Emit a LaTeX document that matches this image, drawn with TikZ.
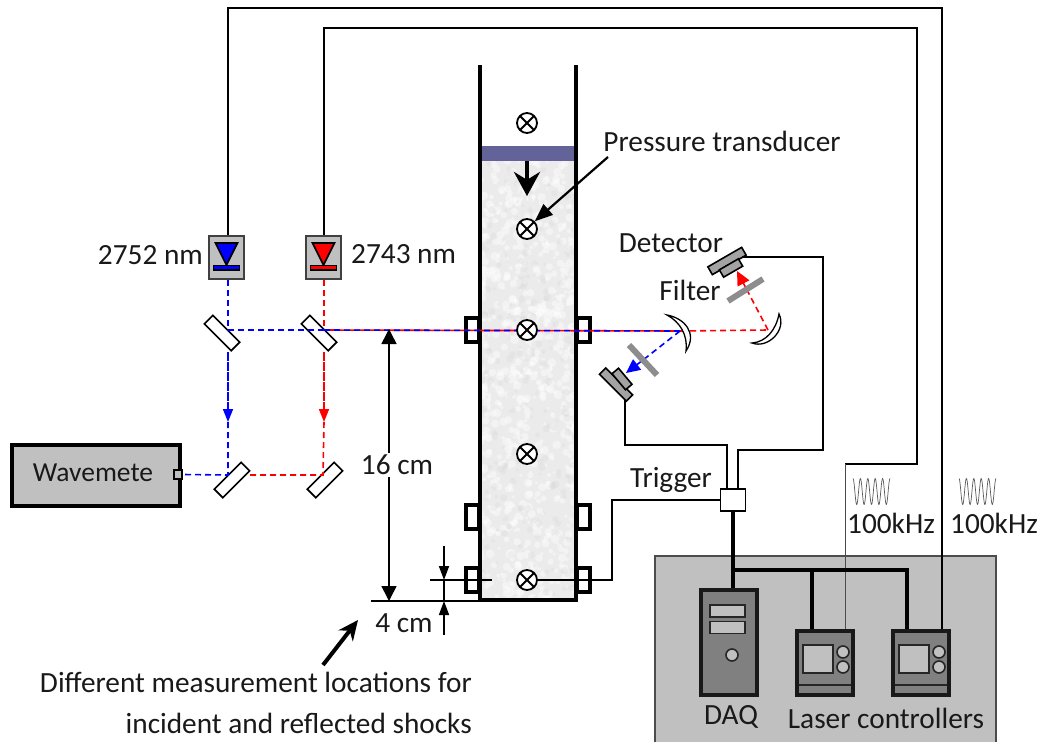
\documentclass[tikz,border=0pt]{standalone}
\usepackage{fontspec}
\setmainfont{Carlito}
\usetikzlibrary{arrows.meta,calc}
\definecolor{panelgray}{HTML}{C0C0C0}
\definecolor{darkgray}{HTML}{808080}
\definecolor{driver}{HTML}{63639A}
\tikzset{
  every node/.style={font=\fontsize{29.3}{33}\selectfont, inner sep=0pt, text=black!90},
  wire/.style={draw=black, line width=1.6pt},
  thinwire/.style={draw=black!70, line width=1pt},
  thickwire/.style={draw=black, line width=4.5pt},
  bluebeam/.style={draw=blue, line width=1.6pt, dash pattern=on 6pt off 4pt},
  redbeam/.style={draw=red, line width=1.6pt, dash pattern=on 6pt off 4pt},
  gauge/.style={circle, draw=black, fill=white, line width=1.8pt, minimum size=20pt,
    path picture={\draw[line width=1.8pt] (path picture bounding box.north west) -- (path picture bounding box.south east)
      (path picture bounding box.north east) -- (path picture bounding box.south west);}},
  port/.style={rectangle, draw=black, fill=white, line width=3.5pt, minimum width=13pt, minimum height=24pt},
  mirror/.style={rectangle, draw=black, fill=white, line width=1.6pt, minimum width=38pt, minimum height=12pt},
  laserbox/.style={rectangle, draw=black!75, fill=panelgray, line width=2pt, minimum width=35pt, minimum height=43pt},
  detplate/.style={rectangle, draw=black, fill=panelgray!85!black, line width=1.6pt},
  cabinet/.style={rectangle, draw=black!90, fill=darkgray, line width=4pt},
  bay/.style={rectangle, draw=black!85, fill=panelgray, line width=1.6pt},
  knob/.style={circle, draw=black!85, fill=panelgray, line width=1.6pt, minimum size=12pt},
  filterbar/.style={draw=darkgray!90, line width=6pt},
  dimarrow/.style={draw=black, line width=1.6pt, -{Triangle[length=15pt,width=15pt]}},
  smallarrow/.style={draw=black, line width=1.6pt, -{Triangle[length=14pt,width=10pt]}},
  wave/.style={draw=black!65, line width=0.7pt},
}
\begin{document}
\begin{tikzpicture}[x=1pt,y=-1pt]
  \useasboundingbox (0,0) rectangle (1044,742);

  % junctions of the optics and the wires
  \coordinate (bsblue) at (228,330);
  \coordinate (bsred) at (324,330);
  \coordinate (foldblue) at (228,475);
  \coordinate (foldred) at (323,475);
  \coordinate (lensa) at (680,331);
  \coordinate (lensb) at (768,330);
  \coordinate (topouter) at (942,8);
  \coordinate (topinner) at (917,28);
  \coordinate (innerturn) at (845,464);
  \coordinate (ctrlainput) at (845,631);
  \coordinate (ctrlbinput) at (942,631);
  \coordinate (detredout) at (742,257);
  \coordinate (detblueout) at (625,400);
  \coordinate (bus) at (733,570);
  \coordinate (buscentre) at (812,570);
  \coordinate (busend) at (907,570);

  % electronics panel
  \fill[panelgray] (655,556) rectangle (996,742);
  \draw[black!70, line width=1.5pt] (655,742) -- (655,556) -- (996,556) -- (996,742);

  % shock tube gas
  \fill[black!8] (481,161) rectangle (575,600);
  \begin{scope}
    \clip (481,161) rectangle (575,600);
    \pgfmathsetseed{41}
    \foreach \i in {1,...,700} {
      \pgfmathsetmacro{\px}{528+48*rand}
      \pgfmathsetmacro{\py}{380+220*rand}
      \pgfmathsetmacro{\pr}{1.5+3*rnd}
      \fill[white, opacity=0.4] (\px,\py) circle (\pr);
    }
    \foreach \i in {1,...,260} {
      \pgfmathsetmacro{\px}{528+48*rand}
      \pgfmathsetmacro{\py}{380+220*rand}
      \pgfmathsetmacro{\pr}{1.5+2.5*rnd}
      \fill[black!15, opacity=0.3] (\px,\py) circle (\pr);
    }
  \end{scope}

  % windows
  \foreach \y/\nam in {330/a, 517/b, 580/c} {
    \node[port] (portl\nam) at (472.5,\y) {};
    \node[port] (portr\nam) at (583.5,\y) {};
  }
  % shock tube walls
  \draw[black, line width=4.5pt] (480,65) -- (480,600) -- (576,600) -- (576,65);
  \fill[driver] (482,146) rectangle (574,161);
  \draw[line width=4.5pt, -{Stealth[length=24pt,width=26pt]}] (527,161) -- (527,196);

  % mirrors
  \node[mirror, rotate=-45] (mirrorbsblue) at (222,333) {};
  \node[mirror, rotate=-45] (mirrorbsred) at (319,333) {};
  \node[mirror, rotate=45] (mirrorfoldblue) at (232,480) {};
  \node[mirror, rotate=45] (mirrorfoldred) at (325,480) {};

  % wavemeter
  \node[rectangle, draw=black, fill=panelgray, line width=4.5pt, minimum width=168pt, minimum height=61pt] (wavemeter) at (96,475.5) {};
  \node[font=\fontsize{27.5}{33}\selectfont] (wavetext) at (93,473) {Wavemete};
  \node[rectangle, draw=black, fill=panelgray, line width=1.5pt, minimum width=8pt, minimum height=9pt] (waveport) at (178,474.5) {};

  % lasers
  \foreach \x/\col/\nam in {226.5/blue/laserblue, 323.5/red/laserred} {
    \node[laserbox] (\nam) at (\x,257.5) {};
    \fill[\col, draw=black, line width=1.6pt] (\x-11,243) -- (\x+11,243) -- (\x,265) -- cycle;
    \fill[\col, draw=black, line width=1.6pt] (\x-13,265.5) rectangle (\x+13,270);
  }

  % beams
  \draw[bluebeam] (bsblue |- laserblue.south) -- (bsblue) -- (bsred);
  \draw[redbeam] (bsred |- laserred.south) -- (bsred);
  \draw[blue, line width=1.6pt, dash pattern=on 9pt off 1pt, -{Triangle[length=13pt,width=10pt]}] (228,352) -- (228,422);
  \draw[bluebeam] (228,422) -- (foldblue) -- (waveport.east);
  \draw[red, line width=1.6pt, dash pattern=on 9pt off 1pt, -{Triangle[length=13pt,width=10pt]}] (324,352) -- (324,422);
  \draw[redbeam] (324,422) -- (foldred) -- (mirrorfoldblue.east |- foldred);
  \draw[red, line width=1.6pt] (bsred) -- (lensa);
  \draw[bluebeam] (bsred) -- (lensa);
  \draw[redbeam] (lensa) -- (lensb);
  \draw[redbeam] (lensb) -- (748,292);
  \draw[red, line width=1.6pt, -{Triangle[length=14pt,width=13pt]}] (748,292) -- (737,271);
  \draw[bluebeam] (lensa) -- (643,360);
  \draw[blue, line width=1.6pt, -{Triangle[length=14pt,width=13pt]}] (643,360) -- (626,373);

  % collecting mirrors
  \draw[black, fill=white, line width=1.3pt] (667,315) .. controls (684,318) and (698,333) .. (686,351) .. controls (688,335) and (680,322) .. (667,315) -- cycle;
  \draw[black, fill=white, line width=1.3pt] (779,314) .. controls (787,330) and (768,349) .. (752,343) .. controls (766,342) and (776,330) .. (779,314) -- cycle;

  % filters
  \draw[filterbar] (728,301) -- (763,279);
  \draw[filterbar] (629,345) -- (657,375);

  % detectors
  \node[detplate, rotate=30, minimum width=39pt, minimum height=9pt] (detredplate) at (727,261) {};
  \node[detplate, rotate=30, minimum width=22pt, minimum height=8.5pt] (detredhead) at (731,268) {};
  \node[detplate, rotate=-45, minimum width=38pt, minimum height=9pt] (detblueplate) at (616,384.5) {};
  \node[detplate, rotate=-50, minimum width=21pt, minimum height=8.5pt] (detbluehead) at (622,379) {};

  % gauges
  \foreach \y/\nam in {123/a, 229/b, 330/c, 454/d, 580/e}
    \node[gauge] (gauge\nam) at (527,\y) {};

  % laser wiring
  \draw[wire] (laserblue.north -| bsblue) |- (topouter) -- (ctrlbinput);
  \draw[wire] (laserred.north -| bsred) |- (topinner) |- (innerturn);
  \draw[thinwire] (innerturn) -- (ctrlainput);

  % trigger box and wires
  \node[rectangle, draw=black, fill=white, line width=1.8pt, minimum width=25pt, minimum height=22pt] (triggerbox) at (733,500) {};
  \draw[wire] (detredout) -| (823,450) -| (738,489.5);
  \draw[wire] (detblueout) -- (625,445) -| (727,489.5);
  \draw[wire] (triggerbox.west) -| (612,580) -- (gaugee.east);

  % DAQ bus
  \draw[thickwire] (triggerbox.south) -- (733,590);
  \draw[thickwire, line cap=rect] (bus) -- (busend) -- (907,631);
  \draw[thickwire] (buscentre) -- (812,631);

  % DAQ
  \node[cabinet, minimum width=56pt, minimum height=105pt] (daq) at (729,642.5) {};
  \node[bay, minimum width=35pt, minimum height=12pt] (bayone) at (727.5,611) {};
  \node[bay, minimum width=35pt, minimum height=12pt] (baytwo) at (727.5,627.5) {};
  \node[knob] (daqknob) at (732,655) {};

  % laser controllers
  \foreach \x/\nam in {825/ctrla, 921/ctrlb} {
    \node[cabinet, minimum width=56pt, minimum height=64pt] (\nam) at (\x,663) {};
    \draw[black!85, line width=1.6pt] (\x-26,685) -- (\x+26,685);
    \node[bay, minimum width=30pt, minimum height=28pt] (\nam screen) at (\x-7,659) {};
    \node[knob] (\nam knoba) at (\x+18,652) {};
    \node[knob] (\nam knobb) at (\x+18,667) {};
  }

  % 100 kHz traces
  \draw[wave, domain=0:5, samples=120, smooth] plot ({853+7.4*\x},{491.5+13*sin(360*\x-90)});
  \draw[wave, domain=0:5, samples=120, smooth] plot ({959+7.4*\x},{491.5+13*sin(360*\x-90)});

  % dimensions
  \coordinate (dimtop) at (389,329);
  \coordinate (dimbottom) at (389,601);
  \coordinate (wallfoot) at (479,601);
  \coordinate (dimfoot) at (371,601);
  \draw[black, line width=1.6pt] (dimfoot) -- (wallfoot);
  \node[fill=white, inner sep=2pt] (dimlong) at (397,465) {16 cm};
  \draw[dimarrow] (dimlong.north -| dimtop) -- (dimtop);
  \draw[dimarrow] (dimlong.south -| dimtop) -- (dimbottom);
  \coordinate (shortup) at (444,546);
  \coordinate (shortdown) at (444,635);
  \draw[black, line width=1.6pt] (430,580) -- (492,580);
  \draw[smallarrow] (shortup) -- (444,580);
  \draw[smallarrow] (shortdown) -- (444,601);
  \draw[black, line width=1.6pt] (444,580) -- (444,601);
  \node (dimshort) at (404,623) {4 cm};

  % labels
  \node[anchor=east] (labelblue) at (203,255) {2752 nm};
  \node[anchor=west] (labelred) at (351,254) {2743 nm};
  \node (labeltransducer) at (722,141) {Pressure transducer};
  \draw[line width=2.2pt, -{Triangle[length=18pt,width=14pt]}] (608,157) -- (gaugeb.north east);
  \node (labeldetector) at (671,243) {Detector};
  \node (labelfilter) at (690,290) {Filter};
  \node (labeltrigger) at (671,480) {Trigger};
  \node (labelfreqa) at (891,523) {100kHz};
  \node (labelfreqb) at (994,523) {100kHz};
  \node (labeldaq) at (731,717) {DAQ};
  \node (labelctrl) at (886,718) {Laser controllers};
  \node[anchor=east] (labelloca) at (472,682) {Different measurement locations for};
  \node[anchor=east] (labellocb) at (472,723) {incident and reflected shocks};
  \coordinate (locarrow) at (358,620);
  \draw[line width=4pt, -{Stealth[length=20pt,width=18pt]}] (323,665) -- (locarrow);
\end{tikzpicture}
\end{document}
